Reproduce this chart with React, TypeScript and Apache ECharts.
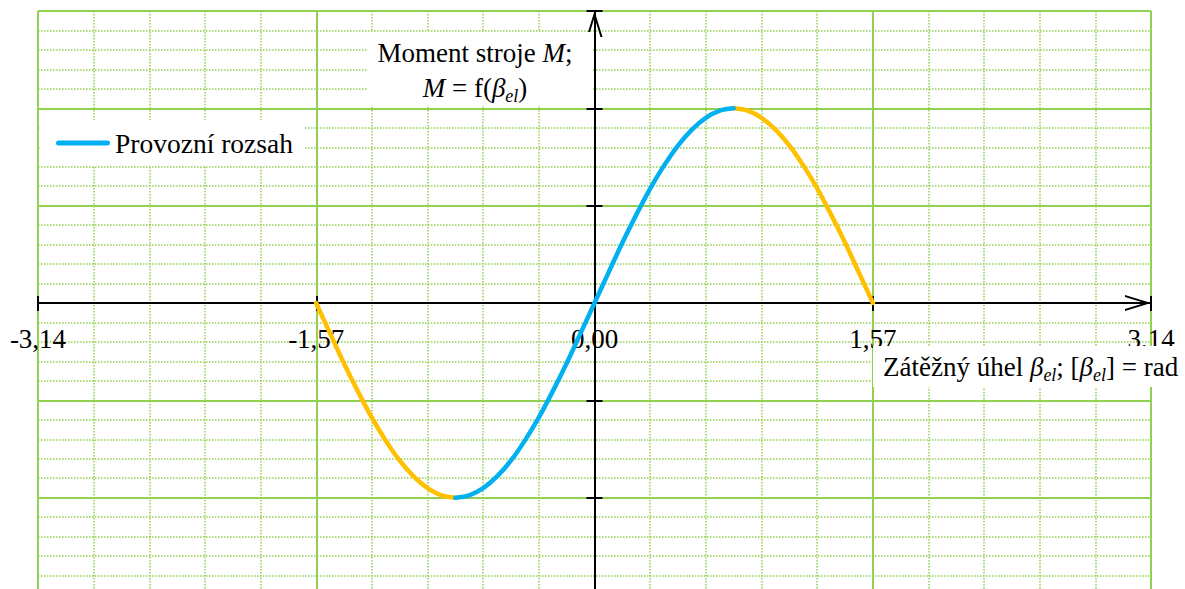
import React, { useEffect, useRef } from 'react';
import * as echarts from 'echarts';

// Zátěžný úhel β_el [rad] a moment stroje M – tři úseky křivky
const betaLeft = [-1.571, -1.492, -1.414, -1.335, -1.257, -1.178, -1.100, -1.021, -0.942, -0.864, -0.785];
const momentLeft = [0, -0.156, -0.309, -0.454, -0.588, -0.707, -0.809, -0.891, -0.951, -0.988, -1.0];

const betaMid = [
  -0.785, -0.707, -0.628, -0.550, -0.471, -0.393, -0.314, -0.236, -0.157, -0.079, 0,
  0.079, 0.157, 0.236, 0.314, 0.393, 0.471, 0.550, 0.628, 0.707, 0.785,
];
const momentMid = [
  -1.0, -0.988, -0.951, -0.891, -0.809, -0.707, -0.588, -0.454, -0.309, -0.156, 0,
  0.156, 0.309, 0.454, 0.588, 0.707, 0.809, 0.891, 0.951, 0.988, 1.0,
];

const betaRight = [0.785, 0.864, 0.942, 1.021, 1.100, 1.178, 1.257, 1.335, 1.414, 1.492, 1.571];
const momentRight = [1.0, 0.988, 0.951, 0.891, 0.809, 0.707, 0.588, 0.454, 0.309, 0.156, 0];

// Axis scales and tick labels
const X_MIN = -3.14;
const X_MAX = 3.14;
const X_STEP = 1.57;
const xTickLabels = ['-3,14', '-1,57', '0,00', '1,57', '3,14'];
const Y_MIN = -1.5;
const Y_MAX = 1.5;
const Y_STEP = 0.5;

const SERIES_RANGE = 'Provozní rozsah';
const SERIES_OUTSIDE = 'Mimo provozní rozsah';

// Plot area in pixels
const GRID_LEFT = 38;
const GRID_RIGHT = 34;
const GRID_TOP = 11;
const GRID_BOTTOM = -6;
const CHART_W = 1185;
const CHART_H = 589;
const PLOT_W = CHART_W - GRID_LEFT - GRID_RIGHT;
const PLOT_H = CHART_H - GRID_TOP - GRID_BOTTOM;
// distance of the crossing axes from the plot edges (axes sit at the origin)
const X_AXIS_SHIFT = -(PLOT_H * (Y_MAX / (Y_MAX - Y_MIN)));
const Y_AXIS_SHIFT = -(PLOT_W * ((0 - X_MIN) / (X_MAX - X_MIN)));

const FONT = 'Liberation Serif';
const GREEN = '#92D050';
const BLUE = '#00B0F0';
const ORANGE = '#FFC000';

const ARROW = 'path://M0,26L8,0L16,26L14,26L8,6.5L2,26Z';
const CAPSULE = 'path://M2.5,0H51.5A2.5,2.5 0 0 1 51.5,5H2.5A2.5,2.5 0 0 1 2.5,0Z';

const zip = (xs: number[], ys: number[]) => xs.map((x, i) => [x, ys[i]]);

const RICH = {
  n: { fontFamily: FONT, fontSize: 27, lineHeight: 34, fill: '#000', color: '#000' },
  i: { fontFamily: FONT, fontSize: 27, fontStyle: 'italic', lineHeight: 34, fill: '#000', color: '#000' },
  s: { fontFamily: FONT, fontSize: 18, fontStyle: 'italic', lineHeight: 20, verticalAlign: 'bottom', fill: '#000', color: '#000' },
};

const textStyle = (text: string, align: string) => ({
  text,
  rich: RICH,
  align,
  textAlign: align,
  verticalAlign: 'middle',
  textVerticalAlign: 'middle',
  fontFamily: FONT,
  fontSize: 27,
  fill: '#000',
});

const gridLines = {
  splitLine: { show: true, lineStyle: { color: GREEN, width: 2 } },
  minorTick: { show: false, splitNumber: 5 },
  minorSplitLine: { show: true, lineStyle: { color: GREEN, width: 1.5, type: [1.5, 1.5] } },
};

const xGridAxis = {
  type: 'value',
  min: X_MIN,
  max: X_MAX,
  interval: X_STEP,
  axisLine: { show: false, onZero: false },
  axisTick: { show: false },
  axisLabel: { show: false },
  ...gridLines,
  z: 0,
};

const yGridAxis = {
  type: 'value',
  min: Y_MIN,
  max: Y_MAX,
  interval: Y_STEP,
  axisLine: { show: false, onZero: false },
  axisTick: { show: false },
  axisLabel: { show: false },
  ...gridLines,
  z: 0,
};

const axisLineStyle = (withLine: boolean) => ({
  show: withLine,
  onZero: false,
  lineStyle: { color: '#000', width: 2 },
  symbol: ['none', ARROW],
  symbolSize: [16, 26],
  symbolOffset: [0, -13],
});

const xLineAxis = (position: string, withLine: boolean, length: number) => ({
  type: 'value',
  position,
  offset: X_AXIS_SHIFT,
  min: X_MIN,
  max: X_MAX,
  interval: X_STEP,
  axisLine: axisLineStyle(withLine),
  axisTick: { show: true, inside: false, length, lineStyle: { color: '#000', width: 2 } },
  axisLabel: {
    show: withLine,
    margin: 22,
    fontFamily: FONT,
    fontSize: 27,
    color: '#000',
    formatter: (_v: number, idx: number) => xTickLabels[idx] ?? '',
  },
  splitLine: { show: false },
  z: 3,
});

const yLineAxis = (position: string, withLine: boolean) => ({
  type: 'value',
  position,
  offset: Y_AXIS_SHIFT,
  min: Y_MIN,
  max: Y_MAX,
  interval: Y_STEP,
  axisLine: axisLineStyle(withLine),
  axisTick: { show: true, inside: false, length: 8, lineStyle: { color: '#000', width: 2 } },
  axisLabel: { show: false },
  splitLine: { show: false },
  z: 3,
});

const lineSeries = (name: string, data: number[][], color: string) => ({
  name,
  type: 'line',
  xAxisIndex: 0,
  yAxisIndex: 0,
  data,
  smooth: 0.3,
  symbol: 'none',
  showSymbol: false,
  lineStyle: { color, width: 4.5, cap: 'round', join: 'round' },
  itemStyle: { color },
  z: 5,
});

const option = {
  animation: false,
  backgroundColor: '#fff',
  grid: {
    left: GRID_LEFT,
    right: GRID_RIGHT,
    top: GRID_TOP,
    bottom: GRID_BOTTOM,
    containLabel: false,
    outerBoundsMode: 'none',
  },
  xAxis: [xGridAxis, xLineAxis('bottom', true, 8), xLineAxis('top', false, 7)],
  yAxis: [yGridAxis, yLineAxis('left', true), yLineAxis('right', false)],
  legend: {
    data: [SERIES_RANGE],
    left: 40,
    top: 120,
    backgroundColor: '#fff',
    padding: [9, 12, 9, 16],
    itemWidth: 54,
    itemHeight: 5,
    icon: CAPSULE,
    textStyle: { fontFamily: FONT, fontSize: 27.5, color: '#000' },
    z: 10,
  },
  series: [
    lineSeries(SERIES_OUTSIDE, zip(betaLeft, momentLeft), ORANGE),
    lineSeries(SERIES_OUTSIDE, zip(betaRight, momentRight), ORANGE),
    lineSeries(SERIES_RANGE, zip(betaMid, momentMid), BLUE),
  ],
  graphic: [
    { type: 'rect', z: 10, shape: { x: 367, y: 32, width: 226, height: 73 }, style: { fill: '#fff' } },
    { type: 'text', z: 11, x: 475, y: 53, style: textStyle('{n|Moment stroje }{i|M}{n|;}', 'center') },
    { type: 'text', z: 11, x: 475, y: 88, style: textStyle('{i|M}{n| = f(}{i|β}{s|el}{n|)}', 'center') },
    { type: 'rect', z: 10, shape: { x: 873, y: 346, width: 312, height: 41 }, style: { fill: '#fff' } },
    {
      type: 'text',
      z: 11,
      x: 883,
      y: 367,
      style: textStyle('{n|Zátěžný úhel }{i|β}{s|el}{n|; [}{i|β}{s|el}{n|] = rad}', 'left'),
    },
  ],
};

export default function App() {
  const ref = useRef<HTMLDivElement>(null);
  useEffect(() => {
    if (!ref.current) return;
    const chart = echarts.init(ref.current, null, { renderer: 'svg' });
    chart.setOption(option as any);
    return () => chart.dispose();
  }, []);
  return (
    <div
      ref={ref}
      style={{ position: 'absolute', left: 0, top: 0, width: CHART_W, height: CHART_H, background: '#fff' }}
    />
  );
}
